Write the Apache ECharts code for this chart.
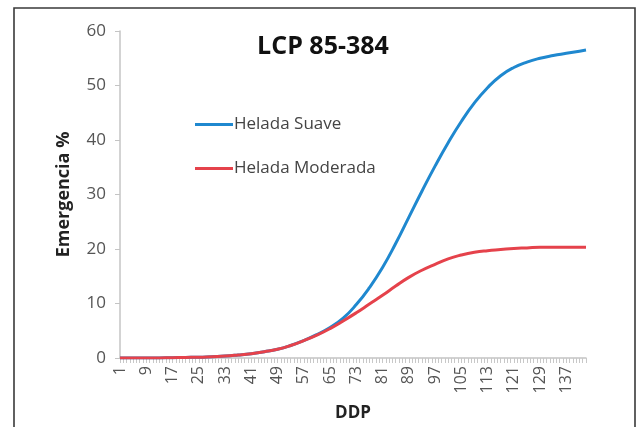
<!DOCTYPE html>
<html>
<head>
<meta charset="utf-8">
<script src="https://cdn.jsdelivr.net/npm/echarts@6/dist/echarts.min.js"></script>
<style>
  html, body { margin: 0; padding: 0; background: #fff; }
  #chart { width: 642px; height: 427px; }
</style>
</head>
<body>
<div id="chart"></div>
<script>
// DDP categories 1..143, labels every 8th (1, 9, ... 137)
const days = []
for (let d = 1; d <= 143; d++) days.push(String(d))

const sampleDays = [1, 5, 9, 13, 17, 21, 25, 29, 33, 37, 41, 45, 49, 53, 57, 61, 65, 69, 73, 77, 81, 85, 89, 93, 97, 101, 105, 109, 113, 117, 121, 125, 129, 133, 137, 141, 143]

const suave = [0, 0, 0, 0.02, 0.05, 0.1, 0.15, 0.25, 0.35, 0.55, 0.8, 1.15, 1.6, 2.3, 3.2, 4.3, 5.6, 7.3, 9.8, 12.9, 16.6, 21.0, 25.8, 30.6, 35.2, 39.5, 43.4, 46.8, 49.6, 51.8, 53.3, 54.3, 55.0, 55.5, 55.9, 56.3, 56.5]
const moderada = [0, 0, 0, 0.02, 0.05, 0.1, 0.15, 0.25, 0.35, 0.55, 0.8, 1.15, 1.6, 2.3, 3.2, 4.2, 5.4, 6.8, 8.3, 9.9, 11.5, 13.2, 14.8, 16.1, 17.2, 18.2, 18.9, 19.4, 19.7, 19.9, 20.1, 20.2, 20.3, 20.3, 20.3, 20.3, 20.3]

const toPairs = vals => sampleDays.map((d, i) => [String(d), vals[i]])

const font = '"Open Sans", "Liberation Sans", sans-serif'

const chart = echarts.init(document.getElementById('chart'))
chart.setOption({
  backgroundColor: '#fff',
  animation: false,
  title: {
    text: 'LCP 85-384',
    left: 318,
    top: 29,
    textAlign: 'center',
    textStyle: { fontFamily: font, fontSize: 25, fontWeight: 'bold', color: '#111' }
  },
  legend: {
    orient: 'vertical',
    left: 190,
    top: 111,
    itemGap: 27,
    itemWidth: 38,
    itemHeight: 3,
    icon: 'rect',
    textStyle: { fontFamily: font, fontSize: 17, color: '#444', padding: [0, 0, 0, -4] },
    data: ['Helada Suave', 'Helada Moderada']
  },
  graphic: [{
    type: 'polyline',
    shape: { points: [[14, 427], [14, 8], [635, 8], [635, 427]] },
    style: { stroke: '#3a3a3a', lineWidth: 1.6, fill: null },
    silent: true
  }],
  grid: { left: 120, right: 56, top: 31, bottom: 69 },
  xAxis: {
    type: 'category',
    data: days,
    boundaryGap: false,
    name: 'DDP',
    nameLocation: 'middle',
    nameGap: 47,
    nameTextStyle: { fontFamily: font, fontSize: 17, fontWeight: 'bold', color: '#222' },
    axisLine: { lineStyle: { color: '#c4c4c4', width: 1.5 } },
    axisTick: { interval: 0, length: 5, lineStyle: { color: '#c8c8c8' } },
    axisLabel: {
      interval: 7,
      rotate: 90,
      margin: 8,
      fontFamily: font,
      fontSize: 16,
      color: '#555'
    },
    splitLine: { show: false }
  },
  yAxis: {
    type: 'value',
    min: 0,
    max: 60,
    interval: 10,
    name: 'Emergencia %',
    nameLocation: 'middle',
    nameGap: 47,
    nameTextStyle: { fontFamily: font, fontSize: 18, fontWeight: 'bold', color: '#222' },
    axisLine: { show: true, lineStyle: { color: '#c4c4c4', width: 1.5 } },
    axisTick: { show: true, length: 5, lineStyle: { color: '#c4c4c4' } },
    axisLabel: { fontFamily: font, fontSize: 17, color: '#555', margin: 14 },
    splitLine: { show: false }
  },
  series: [
    {
      name: 'Helada Suave',
      type: 'line',
      smooth: true,
      symbol: 'none',
      z: 3,
      lineStyle: { color: '#1f88cf', width: 3 },
      itemStyle: { color: '#1f88cf' },
      data: toPairs(suave)
    },
    {
      name: 'Helada Moderada',
      type: 'line',
      smooth: true,
      symbol: 'none',
      z: 4,
      lineStyle: { color: '#e5424b', width: 3 },
      itemStyle: { color: '#e5424b' },
      data: toPairs(moderada)
    }
  ]
})
</script>
</body>
</html>
